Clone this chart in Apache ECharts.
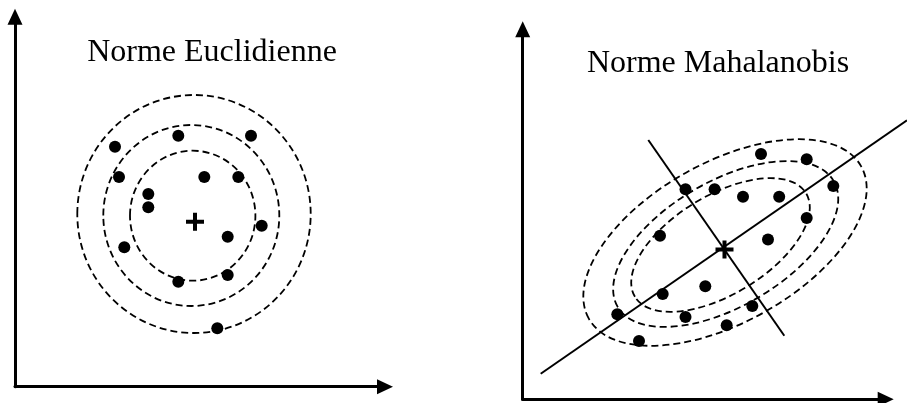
<!DOCTYPE html>
<html>
<head>
<meta charset="utf-8">
<script src="https://cdn.jsdelivr.net/npm/echarts@6/dist/echarts.min.js"></script>
<style>
  html, body { margin: 0; background: #fff; }
  #chart { width: 907px; height: 403px; }
</style>
</head>
<body>
<div id="chart"></div>
<script>
// left panel: euclidean norm
const euclidX = [10.0, 16.33, 23.6, 10.4, 18.93, 22.33, 13.33, 13.33, 24.67, 21.27, 10.93, 16.33, 21.27, 20.23]
const euclidY = [24.0, 25.1, 25.1, 20.97, 20.97, 20.97, 19.27, 17.94, 16.1, 15.0, 13.94, 10.5, 11.17, 5.84]
const euclidCenter = [18.0, 16.5]
// [cx, cy, rx, ry, angle]
const euclidRings = [
  [17.9, 17.27, 11.67, 11.9, 0],
  [17.63, 17.12, 8.8, 9.05, 0],
  [17.77, 17.1, 6.27, 6.5, 0],
]

// right panel: mahalanobis norm
const mahaX = [23.83, 28.4, 16.28, 19.19, 22.03, 25.65, 31.06, 28.4, 13.73, 24.53, 18.26, 14.0, 9.46, 16.28, 22.96, 20.4, 11.63]
const mahaY = [24.53, 24.0, 21.01, 21.01, 20.26, 20.26, 21.33, 18.13, 16.35, 15.97, 11.3, 10.53, 8.5, 8.23, 9.33, 7.4, 5.83]
const mahaCenter = [20.18, 14.98]
const mahaRings = [
  [20.23, 15.68, 15.6, 8.0, 29.2],
  [20.3, 15.53, 12.5, 6.26, 30.2],
  [19.78, 15.43, 10.0, 4.94, 31.2],
]
// [x1, y1, x2, y2] : major and minor axis of the ellipses
const mahaAxes = [
  [1.8, 2.55, 38.43, 27.9],
  [12.56, 25.93, 26.16, 6.36],
]

const titles = ['Norme Euclidienne', 'Norme Mahalanobis']

const plusPath = 'path://M7,0H11V7H18V11H11V18H7V11H0V7H7Z'

function zip(xs, ys) {
  return xs.map((x, i) => [x, ys[i]])
}

function renderRing(params, api) {
  const c = api.coord([api.value(0), api.value(1)])
  const s = api.size([api.value(2), api.value(3)])
  return {
    type: 'ellipse',
    x: c[0],
    y: c[1],
    rotation: api.value(4) * Math.PI / 180,
    shape: { cx: 0, cy: 0, rx: s[0], ry: s[1] },
    style: { fill: null, stroke: '#000', lineWidth: 1.8, lineDash: [7, 4] },
  }
}

function renderSegment(params, api) {
  const a = api.coord([api.value(0), api.value(1)])
  const b = api.coord([api.value(2), api.value(3)])
  return {
    type: 'line',
    shape: { x1: a[0], y1: a[1], x2: b[0], y2: b[1] },
    style: { stroke: '#000', lineWidth: 2 },
  }
}

function makeAxis(gridIndex, max) {
  return {
    gridIndex,
    type: 'value',
    min: 0,
    max,
    axisLine: {
      show: true,
      onZero: false,
      symbol: ['none', 'triangle'],
      symbolSize: [15, 16],
      lineStyle: { color: '#000', width: 3 },
    },
    axisTick: { show: false },
    axisLabel: { show: false },
    splitLine: { show: false },
  }
}

function panelSeries(i, dotsX, dotsY, center, rings) {
  return [
    {
      type: 'custom',
      xAxisIndex: i,
      yAxisIndex: i,
      renderItem: renderRing,
      data: rings,
      clip: false,
      silent: true,
    },
    {
      type: 'scatter',
      xAxisIndex: i,
      yAxisIndex: i,
      data: zip(dotsX, dotsY),
      symbolSize: 12,
      itemStyle: { color: '#000', opacity: 1 },
      z: 4,
    },
    {
      type: 'scatter',
      xAxisIndex: i,
      yAxisIndex: i,
      data: [center],
      symbol: plusPath,
      symbolSize: 18,
      itemStyle: { color: '#000', opacity: 1 },
      z: 5,
    },
  ]
}

const chart = echarts.init(document.getElementById('chart'))

chart.setOption({
  animation: false,
  backgroundColor: '#fff',
  grid: [
    { left: 15, top: 16.7, width: 370, height: 370 },
    { left: 522.7, top: 29.3, width: 363, height: 370 },
  ],
  xAxis: [makeAxis(0, 37), makeAxis(1, 36.3)],
  yAxis: [makeAxis(0, 37), makeAxis(1, 37)],
  graphic: [
    {
      type: 'text',
      x: 212,
      y: 53,
      style: { text: titles[0], font: '32px "Liberation Serif"', fill: '#000', align: 'center', verticalAlign: 'middle' },
    },
    {
      type: 'text',
      x: 718,
      y: 64,
      style: { text: titles[1], font: '32px "Liberation Serif"', fill: '#000', align: 'center', verticalAlign: 'middle' },
    },
  ],
  series: [
    ...panelSeries(0, euclidX, euclidY, euclidCenter, euclidRings),
    ...panelSeries(1, mahaX, mahaY, mahaCenter, mahaRings),
    {
      type: 'custom',
      xAxisIndex: 1,
      yAxisIndex: 1,
      renderItem: renderSegment,
      data: mahaAxes,
      clip: false,
      silent: true,
      z: 3,
    },
  ],
})
</script>
</body>
</html>
